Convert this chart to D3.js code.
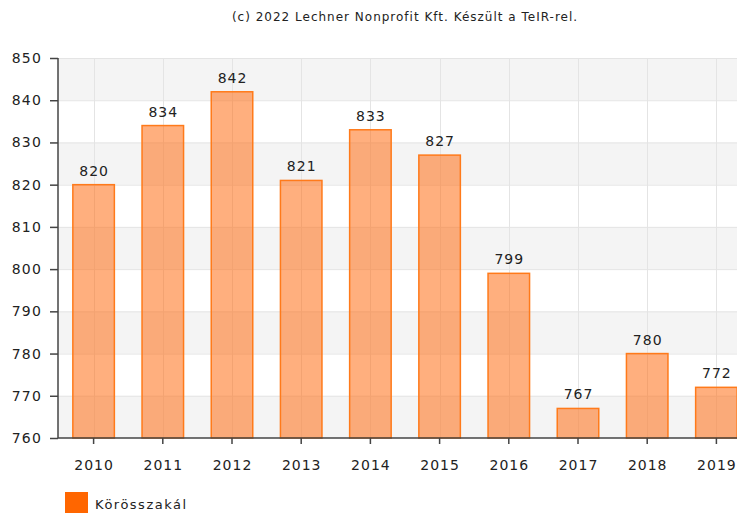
<!DOCTYPE html>
<html><head><meta charset="utf-8">
<script src="https://cdn.jsdelivr.net/npm/d3@7"></script>
<style>
body{margin:0;background:#fff;}
svg{display:block;font-family:"DejaVu Sans",Verdana,sans-serif;}
</style></head>
<body>
<svg id="c" width="737" height="513"></svg>
<script>
const years = ["2010","2011","2012","2013","2014","2015","2016","2017","2018","2019"];
const values = [820,834,842,821,833,827,799,767,780,772];
const yTicks = [760,770,780,790,800,810,820,830,840,850];
const seriesName = "Körösszakál";
const title = "(c) 2022 Lechner Nonprofit Kft. Készült a TeIR-rel.";

const svg = d3.select("#c");
const pL = 58, pR = 751, pT = 58, pB = 438;
const x = d3.scaleBand().domain(years).range([pL + 1, pR]).padding(0);
const y = d3.scaleLinear().domain([760, 850]).range([pB, pT]);

svg.append("text").attr("x", 405).attr("y", 21).attr("text-anchor","middle")
  .attr("font-size", 12).attr("letter-spacing", 1.0).attr("fill","#222").text(title);

// alternating bands
const bands = yTicks.slice(0,-1).map((v,i)=>({v0:v, v1:yTicks[i+1], i}));
svg.append("g").selectAll("rect").data(bands.filter(b=>b.i%2===0)).join("rect")
  .attr("x", pL).attr("width", pR-pL)
  .attr("y", d=>y(d.v1)).attr("height", d=>y(d.v0)-y(d.v1))
  .attr("fill","#f4f4f4");

// horizontal grid
svg.append("g").selectAll("line").data(yTicks.slice(1)).join("line")
  .attr("x1", pL).attr("x2", pR).attr("y1", d=>y(d)+0.5).attr("y2", d=>y(d)+0.5)
  .attr("stroke","#e4e4e4").attr("stroke-width",1);
// vertical grid
svg.append("g").selectAll("line").data(years).join("line")
  .attr("x1", d=>Math.round(x(d)+x.bandwidth()/2)+0.5).attr("x2", d=>Math.round(x(d)+x.bandwidth()/2)+0.5)
  .attr("y1", pT).attr("y2", pB).attr("stroke","#e4e4e4").attr("stroke-width",1);

// bars
const bw = x.bandwidth()*0.6;
svg.append("g").selectAll("rect").data(values).join("rect")
  .attr("x", (d,i)=>x(years[i])+x.bandwidth()/2-bw/2)
  .attr("y", d=>y(d)).attr("width", bw).attr("height", d=>pB-y(d))
  .attr("fill","rgba(255,110,20,0.55)").attr("stroke","#ff7a1a").attr("stroke-width",1.5);

// value labels
svg.append("g").selectAll("text").data(values).join("text")
  .attr("x", (d,i)=>x(years[i])+x.bandwidth()/2 + 0.5)
  .attr("y", d=>y(d)-9).attr("text-anchor","middle").attr("font-size",14).attr("letter-spacing",1)
  .attr("fill","#222").text(d=>d);

// axes
const yAxis = d3.axisLeft(y).tickValues(yTicks).tickSize(8).tickPadding(8);
const gy = svg.append("g").attr("transform",`translate(${pL},0)`).call(yAxis);
gy.selectAll("text").attr("font-size",14).attr("letter-spacing",1.2).attr("fill","#222").attr("font-family","DejaVu Sans, sans-serif");
gy.selectAll("line,path").attr("stroke","#444").attr("stroke-width",1.5);
gy.select(".domain").attr("d", `M0,${pT}V${pB}`);

const xAxis = d3.axisBottom(x).tickSize(6).tickPadding(16);
const gx = svg.append("g").attr("transform",`translate(0,${pB})`).call(xAxis);
gx.selectAll("text").attr("font-size",14).attr("letter-spacing",1).attr("dx",0.5).attr("fill","#222").attr("font-family","DejaVu Sans, sans-serif");
gx.selectAll("line,path").attr("stroke","#444").attr("stroke-width",1.5);
gx.select(".domain").attr("d", `M${pL},0H${pR}`);

// legend
svg.append("rect").attr("x",65).attr("y",492).attr("width",23).attr("height",21).attr("fill","#ff6600");
svg.append("text").attr("x",95).attr("y",509).attr("font-size",13).attr("letter-spacing",1.5).attr("fill","#222").text(seriesName);
</script>
</body></html>
